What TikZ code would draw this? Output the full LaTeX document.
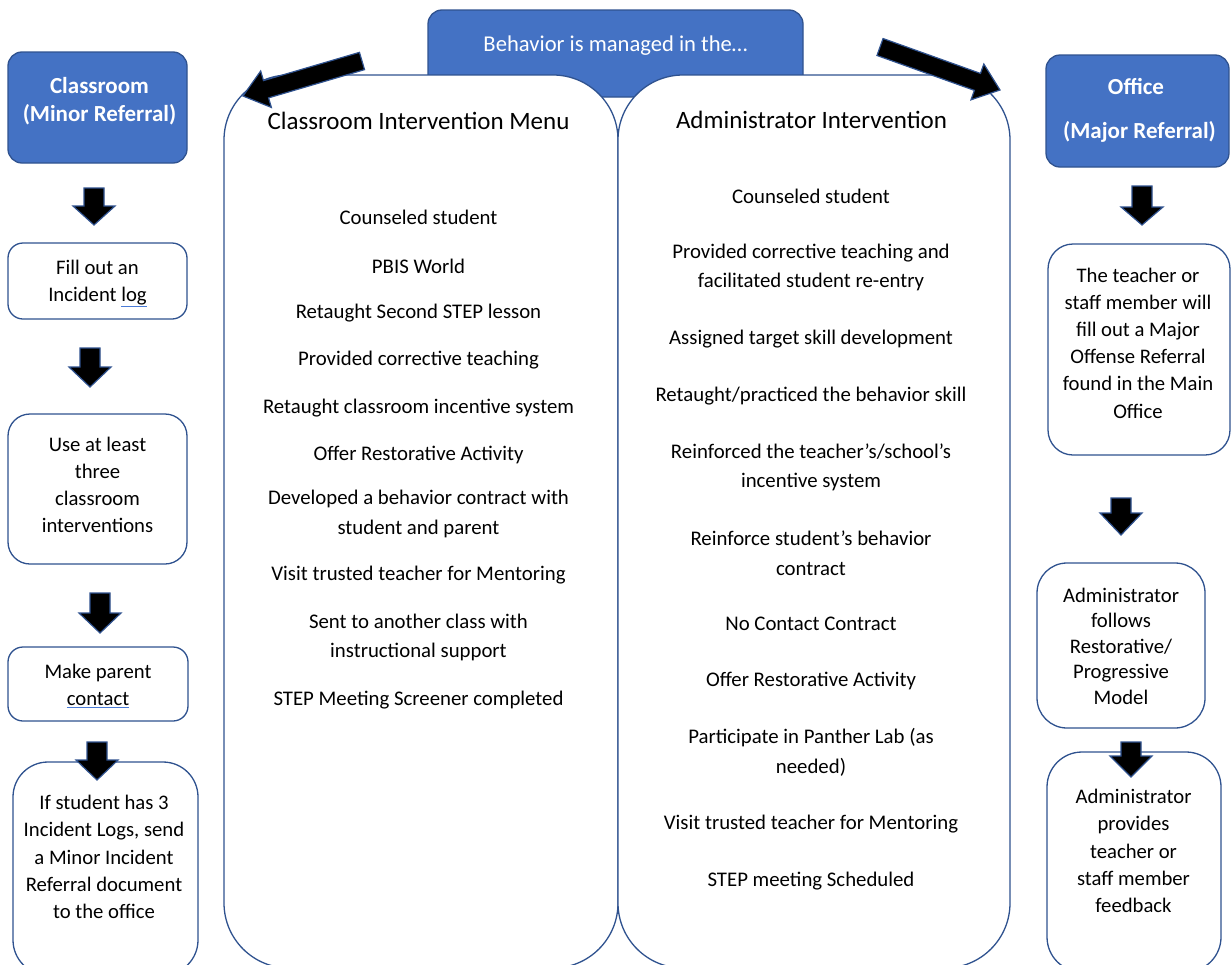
\documentclass[tikz,border=0pt]{standalone}
\usepackage{fontspec}
\setmainfont{Carlito}
\usetikzlibrary{calc}
\definecolor{mblue}{HTML}{4472C4}
\definecolor{mborder}{HTML}{2F528F}
\definecolor{ulblue}{HTML}{4A7BD6}
\newcommand{\blkdown}[4]{% cx, ytop, yhead, ybot
  \filldraw[blk] ({#1-10},#2) -- ({#1+10},#2) -- ({#1+10},#3) -- ({#1+21},#3)
    -- (#1,#4) -- ({#1-21},#3) -- ({#1-10},#3) -- cycle;}
\newcommand{\ulword}[1]{{\color{ulblue}\underline{\textcolor{black}{#1}}}}
\begin{document}
\begin{tikzpicture}[x=1pt,y=-1pt,
 bluebox/.style={draw=mborder, line width=1.3pt, fill=mblue, rounded corners=14pt, inner sep=0pt},
 wbox/.style={draw=mborder, line width=1.3pt, fill=white, inner sep=0pt},
 txt/.style={align=center, inner sep=0pt, font=\fontsize{20.7}{27.2}\selectfont},
 wtxt/.style={align=center, inner sep=0pt, text=white, font=\fontsize{23}{28}\selectfont\bfseries},
 ttl/.style={inner sep=0pt, font=\fontsize{25}{29}\selectfont},
 itm/.style={align=center, inner sep=0pt, font=\fontsize{20.8}{29.5}\selectfont},
 blk/.style={fill=black, draw=mborder, line width=1.2pt, line join=miter},
]
\useasboundingbox (0,0) rectangle (1231,964);

% top box
\node[bluebox, minimum width=375pt, minimum height=87pt] (top) at (615.5,53.5) {};
\node[inner sep=0pt, text=white, font=\fontsize{22.6}{26}\selectfont] (toptxt) at (615.5,46) {Behavior is managed in the\dots};

% panels
\node[wbox, rounded corners=65pt, minimum width=394pt, minimum height=893pt] (lpan) at (421,521.5) {};
\node[wbox, rounded corners=65pt, minimum width=392pt, minimum height=893pt] (rpan) at (814,521.5) {};

% diagonal arrows
\coordinate (lt) at (362,61); \coordinate (lp) at (243,96);
\coordinate (lb) at ($(lp)!24pt!(lt)$);
\filldraw[blk] ($(lt)!9pt!90:(lp)$) -- ($(lb)!9pt!-90:(lt)$) -- ($(lb)!19pt!-90:(lt)$) -- (lp)
  -- ($(lb)!19pt!90:(lt)$) -- ($(lb)!9pt!90:(lt)$) -- ($(lt)!9pt!-90:(lp)$) -- cycle;
\coordinate (rt) at (880,47); \coordinate (rp) at (1000,90);
\coordinate (rb) at ($(rp)!24pt!(rt)$);
\filldraw[blk] ($(rt)!9pt!90:(rp)$) -- ($(rb)!9pt!-90:(rt)$) -- ($(rb)!19pt!-90:(rt)$) -- (rp)
  -- ($(rb)!19pt!90:(rt)$) -- ($(rb)!9pt!90:(rt)$) -- ($(rt)!9pt!-90:(rp)$) -- cycle;

% left column
\node[bluebox, minimum width=179pt, minimum height=111pt] (cls) at (97.5,107.5) {};
\node[wtxt] (clstxt) at (99.5,101) {Classroom\\(Minor Referral)};
\node[wbox, rounded corners=15pt, minimum width=179pt, minimum height=76pt] (fill) at (97.5,281) {};
\node[txt] (filltxt) at (97.5,283.5) {Fill out an\\Incident \ulword{log}};
\node[wbox, rounded corners=22pt, minimum width=179pt, minimum height=150pt] (use) at (97.5,489) {};
\node[txt] (usetxt) at (97.5,485) {Use at least\\three\\classroom\\interventions};
\node[wbox, rounded corners=15pt, minimum width=180pt, minimum height=74pt] (par) at (98,684) {};
\node[txt] (partxt) at (98,686) {Make parent\\\ulword{contact}};
\node[wbox, rounded corners=35pt, minimum width=185pt, minimum height=213pt] (ifs) at (105.5,868.5) {};
\blkdown{94}{188}{206}{225}
\blkdown{90}{348}{367}{387}
\blkdown{100}{593}{613}{633}
\blkdown{97}{742}{760}{780}
\node[txt] (ifstxt) at (104,857) {If student has 3\\Incident Logs, send\\a Minor Incident\\Referral document\\to the office};

% right column
\node[bluebox, minimum width=183pt, minimum height=112pt] (off) at (1137.5,111) {};
\node[wtxt] (offtxt1) at (1136,86) {Office};
\node[wtxt] (offtxt2) at (1139.5,132) {(Major Referral)};
\node[wbox, rounded corners=25pt, minimum width=182pt, minimum height=211pt] (tea) at (1139,349.5) {};
\node[txt] (teatxt) at (1138,343) {The teacher or\\staff member will\\fill out a Major\\Offense Referral\\found in the Main\\Office};
\node[wbox, rounded corners=30pt, minimum width=168pt, minimum height=165pt] (adm1) at (1121,645.5) {};
\node[txt, font=\fontsize{20.7}{25.5}\selectfont] (adm1txt) at (1121,646) {Administrator\\follows\\Restorative/\\Progressive\\Model};
\node[wbox, rounded corners=35pt, minimum width=174pt, minimum height=220pt] (adm2) at (1134,862) {};
\blkdown{1142}{186}{207}{225}
\blkdown{1121}{498}{513}{535}
\blkdown{1131}{742}{756}{777}
\node[txt] (adm2txt) at (1133.5,851) {Administrator\\provides\\teacher or\\staff member\\feedback};

% left panel texts
\node[ttl] (lttl) at (418.5,121) {Classroom Intervention Menu};
\node[itm] (l1) at (418.5,217) {Counseled student};
\node[itm] (l2) at (418.5,266) {PBIS World};
\node[itm] (l3) at (418.5,313) {Retaught Second STEP lesson};
\node[itm] (l4) at (418.5,360) {Provided corrective teaching};
\node[itm] (l5) at (418.5,408) {Retaught classroom incentive system};
\node[itm] (l6) at (418.5,455) {Offer Restorative Activity};
\node[itm] (l7) at (418.5,514) {Developed a behavior contract with\\student and parent};
\node[itm] (l8) at (418.5,575) {Visit trusted teacher for Mentoring};
\node[itm] (l9) at (418.5,637.5) {Sent to another class with\\instructional support};
\node[itm] (l10) at (418.5,700) {STEP Meeting Screener completed};

% right panel texts
\node[ttl] (rttl) at (811.5,120) {Administrator Intervention};
\node[itm] (r1) at (811,196) {Counseled student};
\node[itm] (r2) at (811,267.5) {Provided corrective teaching and\\facilitated student re-entry};
\node[itm] (r3) at (811,339) {Assigned target skill development};
\node[itm] (r4) at (811,396) {Retaught/practiced the behavior skill};
\node[itm] (r5) at (811,467.5) {Reinforced the teacher’s/school’s\\incentive system};
\node[itm] (r6) at (811,553) {Reinforce student’s behavior\\contract};
\node[itm] (r7) at (811,624) {No Contact Contract};
\node[itm] (r8) at (811,681) {Offer Restorative Activity};
\node[itm] (r9) at (811,752.5) {Participate in Panther Lab (as\\needed)};
\node[itm] (r10) at (811,824) {Visit trusted teacher for Mentoring};
\node[itm] (r11) at (811,881) {STEP meeting Scheduled};
\end{tikzpicture}
\end{document}
